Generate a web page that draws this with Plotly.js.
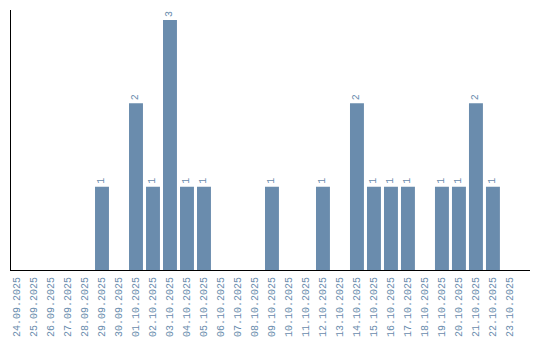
<!DOCTYPE html>
<html>
<head>
<meta charset="utf-8">
<script src="https://cdn.plot.ly/plotly-3.0.1.min.js"></script>
<style>html,body{margin:0;padding:0;background:#fff;}#chart{width:540px;height:340px;}</style>
</head>
<body>
<div id="chart"></div>
<script>
const dates = ["24.09.2025","25.09.2025","26.09.2025","27.09.2025","28.09.2025","29.09.2025","30.09.2025","01.10.2025","02.10.2025","03.10.2025","04.10.2025","05.10.2025","06.10.2025","07.10.2025","08.10.2025","09.10.2025","10.10.2025","11.10.2025","12.10.2025","13.10.2025","14.10.2025","15.10.2025","16.10.2025","17.10.2025","18.10.2025","19.10.2025","20.10.2025","21.10.2025","22.10.2025","23.10.2025"];
const counts = [0,0,0,0,0,1,0,2,1,3,1,1,0,0,0,1,0,0,1,0,2,1,1,1,0,1,1,2,1,0];
const labels = counts.map(v => v > 0 ? String(v) : "");
const barColor = "#6a8cad";
const fontFam = "Liberation Mono, monospace";

Plotly.newPlot("chart", [{
  type: "bar",
  x: dates,
  y: counts,
  text: labels,
  textposition: "outside",
  textangle: -90,
  cliponaxis: false,
  textfont: {family: fontFam, size: 10, color: barColor},
  marker: {color: barColor},
  hoverinfo: "none"
}], {
  width: 540, height: 340,
  margin: {l: 11, r: 10, t: 10, b: 70, pad: 0},
  paper_bgcolor: "#fff", plot_bgcolor: "#fff",
  bargap: 0.18,
  showlegend: false,
  font: {family: fontFam, size: 10, color: barColor},
  xaxis: {
    type: "category",
    range: [-0.353, 30.18],
    showline: true, linecolor: "#000", linewidth: 1,
    showgrid: false, zeroline: false,
    ticks: "", tickangle: -90, ticklabelstandoff: 2,
    tickfont: {family: fontFam, size: 10, color: barColor}
  },
  yaxis: {
    range: [0, 3.12],
    showline: true, linecolor: "#000", linewidth: 1,
    showgrid: false, zeroline: false,
    showticklabels: false, ticks: ""
  }
}, {staticPlot: true, displayModeBar: false});
</script>
</body>
</html>
